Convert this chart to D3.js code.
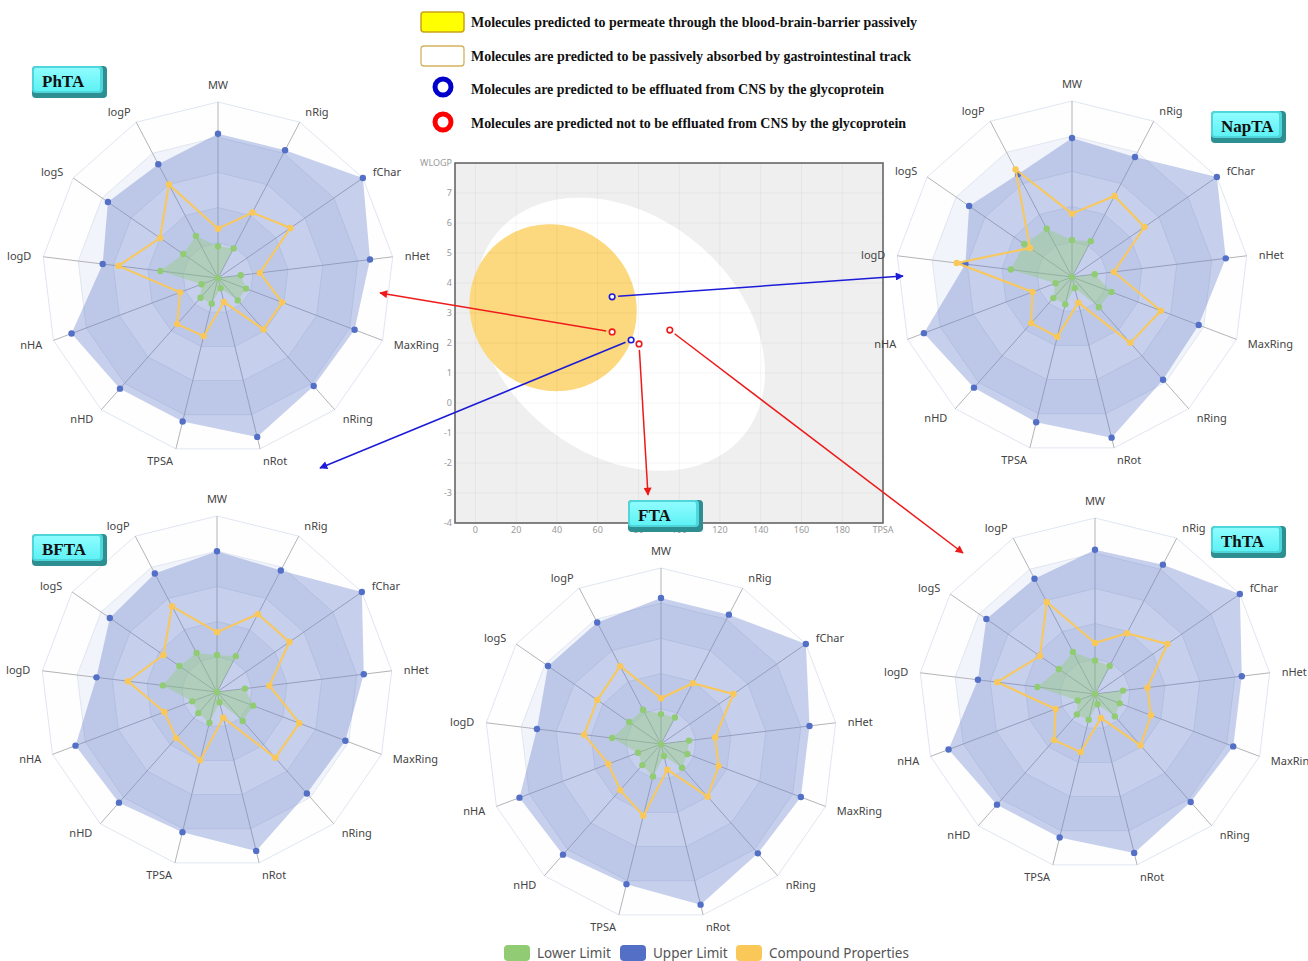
<!DOCTYPE html>
<html><head><meta charset="utf-8">
<script src="https://cdn.jsdelivr.net/npm/d3@7"></script>
<style>body{margin:0;background:#fff;} svg{display:block;}</style>
</head><body><svg id="chart" width="1308" height="961"></svg>
<script>
// ---------------- DATA ----------------
const axisNames = ["MW","nRig","fChar","nHet","MaxRing","nRing","nRot","TPSA","nHD","nHA","logD","logS","logP"];
const compoundNames = ["PhTA","NapTA","BFTA","FTA","ThTA"];
const seriesNames = ["Lower Limit","Upper Limit","Compound Properties"];

// normalised radar values (0..1 of outer radius), axis order as axisNames
const lowerPhTA  = [0.18,0.19,0,0.13,0.17,0.17,0.06,0.15,0.15,0.10,0.33,0.24,0.27];
const upperPhTA  = [0.82,0.82,1.0,0.87,0.83,0.82,0.93,0.84,0.84,0.89,0.66,0.76,0.73];
const compPhTA   = [0.28,0.42,0.50,0.24,0.39,0.39,0.14,0.34,0.35,0.23,0.57,0.40,0.60];

const lowerNapTA = [0.21,0.23,0,0.13,0.24,0.23,0.065,0.16,0.16,0.10,0.35,0.33,0.31];
const upperNapTA = [0.79,0.77,1.0,0.88,0.77,0.78,0.94,0.85,0.84,0.90,0.61,0.71,0.66];
const compNapTA  = [0.36,0.52,0.50,0.24,0.54,0.50,0.15,0.35,0.35,0.24,0.66,0.29,0.69];

const lowerBFTA  = [0.21,0.23,0,0.16,0.22,0.22,0.06,0.18,0.16,0.15,0.31,0.26,0.25];
const upperBFTA  = [0.80,0.78,1.0,0.84,0.78,0.77,0.93,0.82,0.84,0.86,0.69,0.74,0.76];
const compBFTA   = [0.34,0.50,0.50,0.30,0.50,0.50,0.15,0.40,0.35,0.32,0.51,0.37,0.55];

const lowerFTA   = [0.17,0.17,0,0.16,0.16,0.18,0.07,0.19,0.16,0.14,0.28,0.22,0.22];
const upperFTA   = [0.83,0.83,1.0,0.85,0.85,0.83,0.94,0.82,0.84,0.86,0.71,0.78,0.78];
const compFTA    = [0.26,0.39,0.50,0.31,0.35,0.40,0.15,0.42,0.35,0.32,0.44,0.44,0.50];

const lowerThTA  = [0.19,0.18,0,0.16,0.15,0.17,0.06,0.15,0.155,0.105,0.33,0.25,0.27];
const upperThTA  = [0.82,0.83,1.0,0.84,0.84,0.82,0.93,0.84,0.84,0.89,0.67,0.75,0.74];
const compThTA   = [0.29,0.39,0.50,0.30,0.34,0.39,0.14,0.34,0.35,0.24,0.56,0.38,0.59];

// BOILED-Egg points
const eggCompound = ["NapTA","PhTA","BFTA","FTA","ThTA"];
const eggTPSA     = [67.1, 67.1, 76.4, 80.3, 95.4];
const eggWLOGP    = [3.54, 2.37, 2.10, 1.97, 2.43];
const eggPgp      = ["PGP+","PGP-","PGP+","PGP-","PGP-"];
const eggXTicks   = [0,20,40,60,80,100,120,140,160,180];
const eggYTicks   = [-4,-3,-2,-1,0,1,2,3,4,5,6,7];
// ellipses: [centre TPSA, centre WLOGP, semi-axis a, semi-axis b, angle rad]
const hiaEllipse = [71.051, 2.292, 71.04, 4.37, -0.018];
const bbbEllipse = [38.117, 3.177, 41.03, 2.78, -0.0027];

const legendTexts = [
  "Molecules predicted to permeate through the blood-brain-barrier passively",
  "Molecules are predicted to be passively absorbed by gastrointestinal track",
  "Molecules are predicted to be effluated from CNS by the glycoprotein",
  "Molecules are predicted not to be effluated from CNS by the glycoprotein"
];

// ---------------- LAYOUT ----------------
const W = 1308, H = 961;
const svg = d3.select("#chart");
svg.append("rect").attr("width",W).attr("height",H).attr("fill","#fff");

const colLower = "#91cc75", colUpper = "#5470c6", colComp = "#fac858";
const pgpBlue = "#1b1bd8", pgpRed = "#ee1a1a";

const panels = {
  PhTA:  {cx:218,  cy:278, tag:[32,66],   arrow:[162,15]},
  NapTA: {cx:1072, cy:277, tag:[1211,111],arrow:[-169,-1]},
  BFTA:  {cx:217,  cy:692, tag:[32,534],  arrow:[103,-224]},
  FTA:   {cx:661,  cy:744, tag:[628,500], arrow:[-13,-249]},
  ThTA:  {cx:1095, cy:694, tag:[1211,526],arrow:[-132,-141]}
};
const panelData = {
  PhTA:[lowerPhTA,upperPhTA,compPhTA],
  NapTA:[lowerNapTA,upperNapTA,compNapTA],
  BFTA:[lowerBFTA,upperBFTA,compBFTA],
  FTA:[lowerFTA,upperFTA,compFTA],
  ThTA:[lowerThTA,upperThTA,compThTA]
};

const defs = svg.append("defs");
[["arrowBlue",pgpBlue],["arrowRed",pgpRed]].forEach(([id,c])=>{
  defs.append("marker").attr("id",id).attr("viewBox","0 0 10 10")
    .attr("refX",9).attr("refY",5).attr("markerWidth",10).attr("markerHeight",8)
    .attr("markerUnits","userSpaceOnUse").attr("orient","auto")
    .append("path").attr("d","M0,0 L10,5 L0,10 Z").attr("fill",c);
});
const tagGrad = defs.append("linearGradient").attr("id","tagGrad").attr("x1",0).attr("y1",0).attr("x2",0).attr("y2",1);
tagGrad.append("stop").attr("offset","0%").attr("stop-color","#8ffcff");
tagGrad.append("stop").attr("offset","100%").attr("stop-color","#5ef2f5");

// ---------------- BOILED EGG (background part) ----------------
const ex = d3.scaleLinear().domain([-10,200]).range([455,883]);
const ey = d3.scaleLinear().domain([-4,8]).range([523,163]);
const eg = svg.append("g");
eg.append("rect").attr("x",ex(-10)).attr("y",ey(8)).attr("width",ex(200)-ex(-10)).attr("height",ey(-4)-ey(8)).attr("fill","#efefef");
function ellipsePath(e){
  const [cx,cy,a,b,th] = e;
  const pts = d3.range(0,361,2).map(deg=>{
    const t = deg*Math.PI/180;
    const x = cx + a*Math.cos(t)*Math.cos(th) - b*Math.sin(t)*Math.sin(th);
    const y = cy + a*Math.cos(t)*Math.sin(th) + b*Math.sin(t)*Math.cos(th);
    return [ex(x), ey(y)];
  });
  return d3.line().curve(d3.curveLinearClosed)(pts);
}
eg.append("path").attr("d",ellipsePath(hiaEllipse)).attr("fill","#ffffff");
eg.append("path").attr("d",ellipsePath(bbbEllipse)).attr("fill","#fcd87e");
eggXTicks.forEach(t=>{
  eg.append("line").attr("x1",ex(t)).attr("x2",ex(t)).attr("y1",ey(8)).attr("y2",ey(-4))
    .attr("stroke","rgba(0,0,0,0.045)").attr("stroke-width",1);
});
eggYTicks.forEach(t=>{
  eg.append("line").attr("x1",ex(-10)).attr("x2",ex(200)).attr("y1",ey(t)).attr("y2",ey(t))
    .attr("stroke","rgba(0,0,0,0.045)").attr("stroke-width",1);
});
eg.append("rect").attr("x",ex(-10)).attr("y",ey(8)).attr("width",ex(200)-ex(-10)).attr("height",ey(-4)-ey(8))
  .attr("fill","none").attr("stroke","#666").attr("stroke-width",1.6);
const tickFont = "'Noto Sans', 'Open Sans', sans-serif";
eggXTicks.forEach(t=>{
  eg.append("text").attr("x",ex(t)).attr("y",ey(-4)+10).attr("text-anchor","middle")
    .attr("font-family",tickFont).attr("font-size",9).attr("fill","#9a9a9a").text(t);
});
eg.append("text").attr("x",ex(200)).attr("y",ey(-4)+10).attr("text-anchor","middle")
  .attr("font-family",tickFont).attr("font-size",9).attr("fill","#9a9a9a").text("TPSA");
eggYTicks.forEach(t=>{
  eg.append("text").attr("x",ex(-10)-3).attr("y",ey(t)+3).attr("text-anchor","end")
    .attr("font-family",tickFont).attr("font-size",9).attr("fill","#9a9a9a").text(t);
});
eg.append("text").attr("x",ex(-10)-3).attr("y",ey(8)+3).attr("text-anchor","end")
  .attr("font-family",tickFont).attr("font-size",9).attr("fill","#9a9a9a").text("WLOGP");

// ---------------- RADARS ----------------
const R = 176;
const nAx = axisNames.length;
const ang = i => i * 2 * Math.PI / nAx;
const rScale = d3.scaleLinear().domain([0,1]).range([0,R]);
const radial = d3.lineRadial().angle((d,i)=>ang(i)).radius(d=>rScale(d)).curve(d3.curveLinearClosed);
const levels = [0.2,0.4,0.6,0.8,1.0];

function drawRadar(name){
  const p = panels[name];
  const [lower, upper, comp] = panelData[name];
  const g = svg.append("g").attr("transform",`translate(${p.cx},${p.cy})`);
  levels.forEach((lv,k)=>{
    const outer = radial(axisNames.map(()=>lv));
    const inner = k===0 ? "" : radial(axisNames.map(()=>levels[k-1]));
    g.append("path").attr("d", outer + inner).attr("fill-rule","evenodd")
      .attr("fill", k%2===0 ? "rgba(250,250,250,0.2)" : "rgba(210,219,238,0.3)");
  });
  levels.forEach(lv=>{
    g.append("path").attr("d", radial(axisNames.map(()=>lv)))
      .attr("fill","none").attr("stroke","#e0e6f1").attr("stroke-width",1);
  });
  axisNames.forEach((a,i)=>{
    g.append("line").attr("x1",0).attr("y1",0)
      .attr("x2", rScale(1)*Math.sin(ang(i))).attr("y2", -rScale(1)*Math.cos(ang(i)))
      .attr("stroke","#b4b4b8").attr("stroke-width",1);
  });
  const series = [[upper,colUpper,"rgba(84,112,198,0.33)",false],[lower,colLower,"rgba(145,204,117,0.4)",false],[comp,colComp,"none",true]];
  series.forEach(([vals,col,fill,line])=>{
    g.append("path").attr("d", radial(vals)).attr("fill",fill)
      .attr("stroke", line ? col : "none").attr("stroke-width",2).attr("stroke-linejoin","round");
    g.selectAll(null).data(vals).enter().append("circle")
      .attr("cx",(d,i)=>rScale(d)*Math.sin(ang(i)))
      .attr("cy",(d,i)=>-rScale(d)*Math.cos(ang(i)))
      .attr("r",3.2).attr("fill",col);
  });
  const gap = 12;
  axisNames.forEach((a,i)=>{
    const s = Math.sin(ang(i)), c = Math.cos(ang(i));
    const x = (R+gap)*s, y = -(R+gap)*c;
    let anchor = Math.abs(s) < 0.1 ? "middle" : (s>0 ? "start" : "end");
    let dy = Math.abs(s) < 0.1 ? (c>0 ? -6 : 6) : 0;
    g.append("text").attr("x",x).attr("y",y+dy).attr("text-anchor",anchor)
      .attr("dominant-baseline","central")
      .attr("font-family","'Noto Sans', 'Open Sans', sans-serif").attr("font-size",11)
      .attr("fill","#444").text(a);
  });
}
compoundNames.forEach(drawRadar);

// ---------------- ARROWS + EGG POINTS ----------------
eggCompound.forEach((c,i)=>{
  const px = ex(eggTPSA[i]), py = ey(eggWLOGP[i]);
  const p = panels[c];
  const tx = p.cx + p.arrow[0], ty = p.cy + p.arrow[1];
  const d = Math.hypot(tx-px, ty-py);
  const sx = px + (tx-px)/d*6, sy = py + (ty-py)/d*6;
  const col = eggPgp[i]==="PGP+" ? pgpBlue : pgpRed;
  svg.append("line").attr("x1",sx).attr("y1",sy).attr("x2",tx).attr("y2",ty)
    .attr("stroke",col).attr("stroke-width",1.5)
    .attr("marker-end", `url(#${eggPgp[i]==="PGP+" ? "arrowBlue" : "arrowRed"})`);
});
eggCompound.forEach((c,i)=>{
  svg.append("circle").attr("cx",ex(eggTPSA[i])).attr("cy",ey(eggWLOGP[i])).attr("r",2.8)
    .attr("fill","#fff").attr("stroke", eggPgp[i]==="PGP+" ? pgpBlue : pgpRed).attr("stroke-width",1.6);
});

// ---------------- TAGS ----------------
function drawTag(name){
  const [x,y] = panels[name].tag;
  const w = 75, h = 32;
  const g = svg.append("g");
  g.append("rect").attr("x",x).attr("y",y).attr("width",w).attr("height",h).attr("rx",4)
    .attr("fill","#2e8f93");
  g.append("rect").attr("x",x).attr("y",y).attr("width",w-4).attr("height",h-5).attr("rx",4)
    .attr("fill","#4fd6da");
  g.append("rect").attr("x",x+2).attr("y",y+2).attr("width",w-9).attr("height",h-9).attr("rx",2)
    .attr("fill","url(#tagGrad)");
  g.append("text").attr("x",x+10).attr("y",y+h/2-1).attr("dominant-baseline","central")
    .attr("font-family","'Liberation Serif','Times New Roman',serif").attr("font-weight","bold")
    .attr("font-size",17).attr("fill","#111").text(name);
}
compoundNames.forEach(drawTag);

// ---------------- TOP LEGEND ----------------
const lg = svg.append("g");
const legY = [22, 56, 89, 123];
const legW = [446, 440, 413, 435];
lg.append("rect").attr("x",421).attr("y",12).attr("width",43).attr("height",20).attr("rx",3)
  .attr("fill","#ffff00").attr("stroke","#c9a418").attr("stroke-width",1.5);
lg.append("rect").attr("x",421).attr("y",46).attr("width",43).attr("height",20).attr("rx",3)
  .attr("fill","#ffffff").attr("stroke","#d2b25c").attr("stroke-width",1.3);
lg.append("circle").attr("cx",443).attr("cy",87).attr("r",8).attr("fill","none").attr("stroke","#0000cc").attr("stroke-width",5);
lg.append("circle").attr("cx",443).attr("cy",122).attr("r",8).attr("fill","none").attr("stroke","#ff0000").attr("stroke-width",5);
legendTexts.forEach((t,i)=>{
  lg.append("text").attr("x",471).attr("y",legY[i]).attr("dominant-baseline","central")
    .attr("font-family","'Liberation Serif','Times New Roman',serif").attr("font-weight","bold")
    .attr("font-size",14).attr("fill","#111")
    .attr("textLength",legW[i]).attr("lengthAdjust","spacingAndGlyphs").text(t);
});

// ---------------- BOTTOM LEGEND ----------------
const bl = svg.append("g");
const blX = [504, 620, 736];
const blCol = [colLower, colUpper, colComp];
seriesNames.forEach((s,i)=>{
  bl.append("rect").attr("x",blX[i]).attr("y",945).attr("width",26).attr("height",16).attr("rx",4).attr("fill",blCol[i]);
  bl.append("text").attr("x",blX[i]+33).attr("y",953).attr("dominant-baseline","central")
    .attr("font-family","'Noto Sans','Open Sans',sans-serif").attr("font-size",13.5).attr("fill","#555").text(s);
});
</script>
</body></html>
